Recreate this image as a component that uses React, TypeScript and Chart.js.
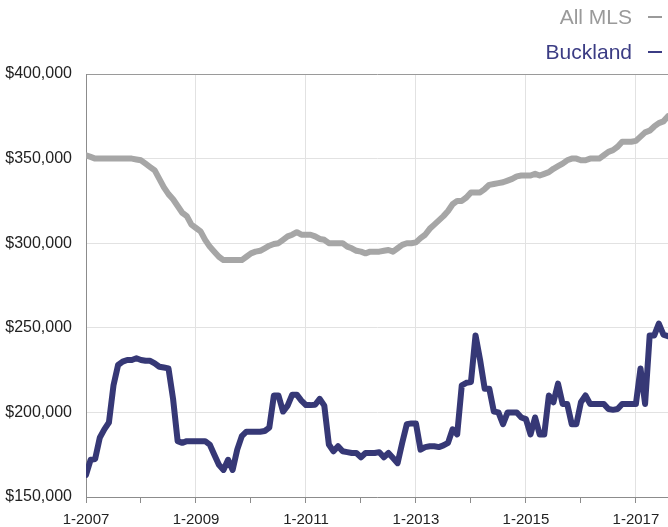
import React, { useEffect, useRef } from "react";
import { Chart, registerables } from "chart.js";

Chart.register(...registerables);

const startYear = 2007;
const monthCount = 128; // 1-2007 .. 8-2017
const yTicks = [150000, 200000, 250000, 300000, 350000, 400000];

const allMls = [
  352000, 351000, 350000, 350000, 350000, 350000, 350000, 350000, 350000, 350000,
  350000, 349500, 349000, 347000, 345000, 343000, 338000, 333000, 329000, 326000,
  322000, 318000, 316000, 311000, 309000, 307000, 302000, 298000, 295000, 292000,
  290000, 290000, 290000, 290000, 290000, 292000, 294000, 295000, 295500, 297000,
  298500, 299500, 300000, 302000, 304000, 305000, 306500, 305000, 305000, 305000,
  304000, 302500, 302000, 300000, 300000, 300000, 300000, 298000, 297000, 295500,
  295000, 294000, 295000, 295000, 295000, 295500, 296000, 295000, 297000, 299000,
  300000, 300000, 300500, 303000, 305000, 308500, 311000, 313500, 316000, 319000,
  323000, 325000, 325000, 327000, 330000, 330000, 330000, 332000, 334500, 335000,
  335500, 336000, 337000, 338000, 339500, 340000, 340000, 340000, 341000, 340000,
  341000, 342000, 344000, 345500, 347000, 349000, 350000, 350000, 349000, 349000,
  350000, 350000, 350000, 352000, 354000, 355000, 357000, 360000, 360000, 360000,
  360500, 363000, 365500, 366500, 369000, 371000, 372000, 375000,
];

const buckland = [
  163000, 172000, 172500, 185000, 190000, 194000, 216000, 228000, 230000, 231000,
  231000, 232000, 231000, 230500, 230500, 229000, 227000, 226500, 226000, 208000,
  183000, 182000, 183000, 183000, 183000, 183000, 183000, 181000, 175000, 169000,
  166000, 172000, 166000, 178000, 186000, 188600, 188600, 188600, 188600, 189000,
  191000, 210000, 210000, 200500, 204000, 210500, 210500, 207000, 204300, 204300,
  204500, 208000, 204000, 181000, 177000, 180000, 177000, 176500, 176000, 176000,
  173500, 176000, 176000, 176000, 176500, 173500, 176000, 173000, 170000, 182000,
  193000, 193500, 193500, 178000, 179500, 180000, 180000, 179500, 180500, 182000,
  190000, 187000, 216000, 217500, 218000, 245500, 231000, 214000, 214000, 200500,
  200000, 193000, 200000, 200000, 200000, 197000, 196000, 187000, 197000, 187000,
  187000, 210000, 206000, 217000, 205000, 205000, 193000, 193000, 206000, 210000,
  205000, 205000, 205000, 205000, 202000, 201500, 202000, 205000, 205000, 205000,
  205000, 226000, 205000, 245500, 245500, 252500, 246000, 245000,
];

const seriesNames = ["All MLS", "Buckland"];
const seriesColors = ["#a6a6a6", "#363876"];
const legendTextColors = ["#9a9a9a", "#3b3c84"];

const fontFamily = "'Liberation Sans', Arial, Helvetica, sans-serif";

export default function App() {
  const ref = useRef<HTMLCanvasElement | null>(null);

  useEffect(() => {
    if (!ref.current) return;
    const toPts = (arr: number[]) => arr.slice(0, monthCount).map((v, i) => ({ x: i, y: v }));
    const chart = new Chart(ref.current, {
      type: "line",
      data: {
        datasets: [
          {
            label: seriesNames[0],
            data: toPts(allMls),
            borderColor: seriesColors[0],
            borderWidth: 6,
            pointRadius: 0,
            tension: 0,
            borderJoinStyle: "round",
            borderCapStyle: "round",
          },
          {
            label: seriesNames[1],
            data: toPts(buckland),
            borderColor: seriesColors[1],
            borderWidth: 6,
            pointRadius: 0,
            tension: 0,
            borderJoinStyle: "round",
            borderCapStyle: "round",
          },
        ],
      },
      options: {
        animation: false,
        responsive: false,
        maintainAspectRatio: false,
        layout: { padding: { top: 74, left: 0, right: 0, bottom: 0 } },
        plugins: { legend: { display: false }, tooltip: { enabled: false } },
        scales: {
          x: {
            type: "linear",
            min: 0,
            max: monthCount - 1,
            afterBuildTicks: (scale: any) => {
              const t = [];
              for (let v = 0; v < monthCount; v += 12) t.push({ value: v });
              scale.ticks = t;
            },
            afterFit: (scale: any) => {
              scale.height = 30;
            },
            border: { color: "#8c8c8c", width: 1 },
            grid: {
              color: (ctx: any) => {
                const v = ctx.tick ? ctx.tick.value : 0;
                const yr = startYear + Math.round(v / 12);
                return v > 0 && yr % 2 === 1 ? "#e2e2e2" : "rgba(0,0,0,0)";
              },
              tickColor: "#8c8c8c",
              tickLength: 6,
              lineWidth: 1,
            },
            ticks: {
              autoSkip: false,
              maxRotation: 0,
              minRotation: 0,
              padding: 8,
              color: "#222",
              font: { family: fontFamily, size: 15 },
              callback: (value: any) => {
                const yr = startYear + Math.round(Number(value) / 12);
                return yr % 2 === 1 ? `1-${yr}` : "";
              },
            },
          },
          y: {
            min: yTicks[0],
            max: yTicks[yTicks.length - 1],
            afterBuildTicks: (scale: any) => {
              scale.ticks = yTicks.map((v) => ({ value: v }));
            },
            afterFit: (scale: any) => {
              scale.width = 86;
            },
            border: { color: "#8c8c8c", width: 1 },
            grid: {
              drawTicks: false,
              color: (ctx: any) =>
                ctx.tick && ctx.tick.value === yTicks[yTicks.length - 1] ? "#9a9a9a" : "#e2e2e2",
            },
            ticks: {
              padding: 14,
              color: "#222",
              font: { family: fontFamily, size: 16 },
              callback: (value: any) => "$" + Number(value).toLocaleString("en-US"),
            },
          },
        },
      },
    });
    return () => chart.destroy();
  }, []);

  const legendRow = (i: number, top: number) => (
    <div
      key={i}
      style={{
        position: "absolute",
        right: 6,
        top,
        height: 24,
        lineHeight: "24px",
        fontFamily,
        fontSize: 21,
        color: legendTextColors[i],
        display: "flex",
        alignItems: "center",
        whiteSpace: "nowrap",
      }}
    >
      <span>{seriesNames[i]}</span>
      <span
        style={{
          display: "inline-block",
          width: 14,
          height: 2,
          marginLeft: 16,
          background: legendTextColors[i],
        }}
      />
    </div>
  );

  return (
    <div style={{ position: "absolute", left: 0, top: 0, width: 668, height: 527, background: "#fff" }}>
      <canvas ref={ref} width={668} height={527} style={{ position: "absolute", left: 0, top: 0 }} />
      {legendRow(0, 5)}
      {legendRow(1, 40)}
    </div>
  );
}
